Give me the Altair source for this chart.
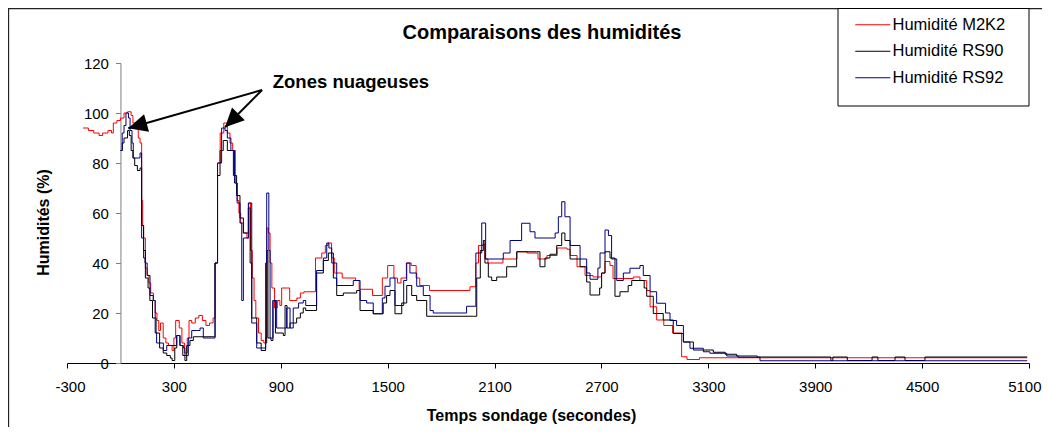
import math
import altair as alt
import pandas as pd

# ---------------- data ----------------
SERIES = ["Humidité M2K2", "Humidité RS90", "Humidité RS92"]
COLORS = ["#FF0000", "#000000", "#000080"]

# (temps en s, humidité en %)
M2K2 = [(-210, 94), (-180, 93), (-150, 92), (-120, 91), (-100, 92), (-70, 93), (-50, 92), (-40, 96),
        (-20, 97), (0, 98), (20, 100), (40, 100.5), (60, 99), (70, 96), (85, 94), (100, 90), (110, 88),
        (119, 65), (125, 55), (130, 50), (140, 38), (150, 35), (160, 32), (170, 28), (185, 25), (195, 20),
        (205, 17), (215, 13), (225, 16), (240, 10), (255, 8), (270, 7), (290, 5), (300, 10), (310, 17),
        (330, 14), (345, 8), (360, 4), (375, 10), (385, 17), (400, 16), (420, 18), (440, 19), (460, 17),
        (480, 15), (500, 16), (520, 18), (531, 40), (545, 80), (560, 92), (580, 96), (600, 92), (615, 88),
        (630, 85), (645, 72), (655, 65), (665, 60), (675, 56), (690, 52), (710, 50), (720, 64), (730, 45),
        (740, 34), (750, 25), (760, 18), (775, 12), (790, 9), (805, 8), (815, 10), (822, 54), (830, 52),
        (840, 40), (850, 30), (865, 22), (880, 25), (895, 23), (905, 30), (930, 30), (950, 25), (970, 25),
        (990, 26), (1010, 28), (1030, 28.5), (1095, 42), (1130, 44), (1150, 47), (1165, 48), (1185, 42),
        (1200, 36), (1245, 34), (1320, 33), (1340, 29.5), (1415, 27), (1470, 34), (1500, 39), (1535, 34),
        (1555, 32), (1575, 34), (1605, 40), (1632, 39), (1660, 34), (1680, 31), (1735, 29), (1962, 30.5),
        (1995, 40), (2010, 47), (2035, 47.5), (2046, 41.6), (2063, 40), (2147, 41.6), (2226, 44.5),
        (2282, 44), (2344, 41.6), (2394, 43), (2451, 46), (2507, 45.5), (2524, 43), (2563, 38.5),
        (2608, 35), (2653, 34.4), (2701, 36), (2720, 40.6), (2748, 39), (2765, 33.8), (2879, 34.4),
        (2916, 33), (2954, 29), (2973, 22.5), (3010, 17.2), (3050, 15), (3100, 12), (3150, 2.5),
        (3180, 1.4), (3250, 2.1), (5090, 2.1)]

RS90 = [(0, 85), (10, 88), (20, 90), (40, 93), (50, 91), (60, 85), (70, 82), (80, 79), (95, 77), (110, 78),
        (119, 55), (130, 45), (140, 34), (155, 30), (165, 25), (180, 18), (200, 12), (220, 6), (240, 4),
        (260, 3), (280, 2), (290, 1), (305, 6), (316, 11), (334, 7), (350, 3), (362, 1), (372, 7), (390, 9),
        (409, 10.5), (521, 10.5), (531, 40), (545, 75), (559, 85), (577, 89), (600, 85), (634, 75),
        (652, 67), (671, 58), (690, 52), (709, 52), (718, 62), (728, 40), (737, 18), (765, 8), (790, 5),
        (815, 8), (821, 45), (828, 10), (845, 9), (856, 25), (870, 12), (914, 11), (924, 23), (935, 14),
        (952, 16), (989, 18), (1010, 20), (1026, 22), (1040, 21), (1082, 21), (1101, 36), (1139, 41),
        (1167, 44), (1195, 34), (1214, 27), (1251, 28), (1326, 29), (1345, 21), (1419, 19.7), (1475, 24),
        (1494, 27), (1513, 29), (1541, 19.7), (1579, 24), (1607, 31), (1635, 27), (1663, 25), (1719, 18.7),
        (1981, 18.7), (2000, 34), (2020, 45), (2037, 49), (2046, 40), (2065, 34.4), (2084, 33), (2112, 34.4),
        (2168, 38.5), (2224, 44.5), (2336, 44.5), (2355, 38.5), (2383, 42), (2411, 43.5), (2449, 47),
        (2477, 52), (2495, 49), (2524, 41.6), (2580, 38.5), (2617, 32.4), (2636, 27.2), (2690, 30),
        (2701, 36), (2720, 44.5), (2748, 42), (2776, 26.7), (2804, 28.5), (2850, 31), (2870, 33),
        (2940, 30), (2954, 26.7), (2991, 19.8), (3047, 17.2), (3103, 11.8), (3160, 8.4), (3216, 5.2),
        (3328, 4.3), (3394, 3.5), (3459, 2.8), (3575, 2.4), (3988, 1.0), (3999, 2.4), (4080, 1.0),
        (4219, 2.4), (4252, 1.0), (4348, 2.4), (4404, 1.0), (4516, 2.4), (5090, 2.4)]

RS92 = [(0, 85), (10, 92), (20, 95), (31, 100), (45, 98), (54, 93), (65, 88), (72, 82), (100, 82), (110, 84),
        (119, 50), (130, 42), (138, 40), (150, 35), (166, 27), (184, 25), (195, 12), (203, 8), (241, 5),
        (260, 7), (297, 7), (316, 11), (334, 7), (353, 6), (362, 3), (381, 10), (400, 13), (428, 13),
        (447, 14), (465, 10), (512, 10), (531, 40), (545, 80), (568, 94), (587, 93), (600, 90), (620, 85),
        (640, 72), (655, 64), (671, 56), (681, 25), (690, 50), (718, 64), (737, 16), (765, 6), (802, 6),
        (815, 40), (821, 68), (833, 45), (840, 10), (856, 25), (877, 14), (914, 14), (933, 22), (952, 14),
        (970, 22), (1000, 24), (1026, 25), (1040, 23), (1092, 23), (1101, 37), (1139, 42), (1158, 48),
        (1170, 46), (1186, 40), (1214, 31), (1289, 31), (1307, 33), (1345, 25), (1382, 24), (1419, 19.7),
        (1470, 26), (1485, 30.7), (1513, 34), (1541, 23), (1569, 23), (1590, 33), (1607, 40), (1625, 36),
        (1663, 30.7), (1700, 27), (1738, 21), (1756, 20), (1943, 22.7), (1995, 44), (2028, 56),
        (2050, 41.6), (2149, 44), (2187, 49), (2252, 55.9), (2299, 52.5), (2327, 50), (2440, 52),
        (2458, 58.5), (2477, 64.5), (2495, 58.5), (2524, 47), (2580, 41.6), (2617, 36), (2636, 33.5),
        (2680, 38), (2692, 44), (2720, 53.2), (2739, 51), (2757, 41.6), (2786, 33), (2823, 36),
        (2860, 37.9), (2916, 39), (2935, 35), (2973, 28.5), (3010, 23.9), (3060, 20), (3085, 17),
        (3122, 15), (3160, 8.4), (3197, 5.9), (3272, 4.5), (3309, 3.9), (3403, 2.8), (3468, 2.3),
        (3590, 0.9), (5090, 0.9)]

X_TICKS = [-300, 300, 900, 1500, 2100, 2700, 3300, 3900, 4500, 5100]
Y_TICKS = [0, 20, 40, 60, 80, 100, 120]

TITLE = "Comparaisons des humidités"
X_TITLE = "Temps sondage (secondes)"
Y_TITLE = "Humidités (%)"
NOTE = "Zones nuageuses"
NOTE_POS = (855, 112.5)
ARROW_TAIL = (795, 109.2)
ARROW_TIPS = [(44, 93.9), (587, 94.3)]

# ---------------- layout ----------------
W, H = 962, 300
XMIN, XMAX = -300, 5100
YMIN, YMAX = 0, 120
FONT = "Liberation Sans"
PX_T = W / (XMAX - XMIN)
PX_H = H / (YMAX - YMIN)
Y_AXIS_OFFSET = -(0 - XMIN) * PX_T  # value axis crosses at t = 0

rows = []
for name, pts in zip(SERIES, [M2K2, RS90, RS92]):
    for t, h in pts:
        rows.append({"serie": name, "t": t, "h": h})
df = pd.DataFrame(rows)

arrows = []
for tt, th in ARROW_TIPS:
    dx = (tt - ARROW_TAIL[0]) * PX_T
    dy = -(th - ARROW_TAIL[1]) * PX_H
    ang = math.degrees(math.atan2(dx, -dy)) % 360
    arrows.append({"t0": ARROW_TAIL[0], "h0": ARROW_TAIL[1], "t1": tt, "h1": th, "ang": ang})
arr_df = pd.DataFrame(arrows)

x_scale = alt.Scale(domain=[XMIN, XMAX], nice=False, zero=False)
y_scale = alt.Scale(domain=[YMIN, YMAX], nice=False)

X_AX = alt.Axis(values=X_TICKS, title=X_TITLE, grid=False, labelExpr="'' + datum.value",
                labelFont=FONT, labelFontSize=15, labelColor="black", labelPadding=11,
                labelFlush=True, labelFlushOffset=12, labelOverlap=False,
                tickSize=5, tickColor="black", domainColor="black", domainWidth=1,
                titleFont=FONT, titleFontSize=16, titleFontWeight="bold", titleColor="black",
                titleX=464, titleY=52, titleAlign="center", titleBaseline="middle")
Y_AX = alt.Axis(values=Y_TICKS, title=Y_TITLE, grid=False, offset=Y_AXIS_OFFSET,
                labelFont=FONT, labelFontSize=15, labelColor="black", labelPadding=7,
                tickSize=5, tickColor="#808080", domainColor="#808080", domainWidth=1,
                titleFont=FONT, titleFontSize=16, titleFontWeight="bold", titleColor="black",
                titleAngle=270, titleX=43 - 67 + Y_AXIS_OFFSET, titleY=159,
                titleAlign="center", titleBaseline="middle")

# outer chart-area frame
frame = alt.Chart(pd.DataFrame({"k": [0]})).mark_rect(
    fill="transparent", stroke="#222222", strokeWidth=1.3
).encode(x=alt.value(-58.5), x2=alt.value(1100), y=alt.value(-54.5), y2=alt.value(500))

lines = alt.Chart(df).mark_line(interpolate="step-after", strokeWidth=1).encode(
    x=alt.X("t:Q", scale=x_scale, axis=X_AX),
    y=alt.Y("h:Q", scale=y_scale, axis=Y_AX),
    color=alt.Color("serie:N", scale=alt.Scale(domain=SERIES, range=COLORS),
                    legend=alt.Legend(title=None, orient="none", legendX=797.5, legendY=-46.5,
                                      padding=0, symbolType="M-3.5,0L3.5,0", symbolSize=100,
                                      symbolStrokeWidth=1, symbolFillColor="transparent",
                                      labelFont=FONT, labelFontSize=16.5, labelColor="black",
                                      labelOffset=11.5, rowPadding=9.5)),
    order=alt.Order("t:Q"),
)

shafts = alt.Chart(arr_df).mark_rule(color="black", strokeWidth=2).encode(
    x=alt.X("t0:Q", scale=x_scale, axis=X_AX), y=alt.Y("h0:Q", scale=y_scale, axis=Y_AX),
    x2="t1:Q", y2="h1:Q")

heads = alt.Chart(arr_df).mark_point(
    shape="M0,0L0.95,2L-0.95,2Z", filled=True, color="black", opacity=1, size=361
).encode(x=alt.X("t1:Q", scale=x_scale, axis=X_AX), y=alt.Y("h1:Q", scale=y_scale, axis=Y_AX),
         angle=alt.Angle("ang:Q", scale=None))

note = alt.Chart(pd.DataFrame({"t": [NOTE_POS[0]], "h": [NOTE_POS[1]], "txt": [NOTE]})).mark_text(
    align="left", baseline="middle", font=FONT, fontSize=18.5, fontWeight="bold", color="black"
).encode(x=alt.X("t:Q", scale=x_scale, axis=X_AX), y=alt.Y("h:Q", scale=y_scale, axis=Y_AX), text="txt:N")

title = alt.Chart(pd.DataFrame({"txt": [TITLE]})).mark_text(
    align="center", baseline="middle", font=FONT, fontSize=20, fontWeight="bold", color="black"
).encode(x=alt.value(542 - 67), y=alt.value(33 - 63), text="txt:N")

legend_box = alt.Chart(pd.DataFrame({"k": [0]})).mark_rect(
    fill="white", stroke="black", strokeWidth=1
).encode(x=alt.value(838 - 67), x2=alt.value(1029 - 67), y=alt.value(-54.5), y2=alt.value(106 - 63))

chart = alt.layer(frame, legend_box, lines, shafts, heads, note, title).properties(
    width=W, height=H,
    padding={"left": 59, "top": 55, "right": 13, "bottom": 64},
    autosize=alt.AutoSizeParams(type="none"),
    background="white",
).configure_view(stroke=None)

chart.save("out.html", embed_options={"renderer": "svg", "actions": False})
